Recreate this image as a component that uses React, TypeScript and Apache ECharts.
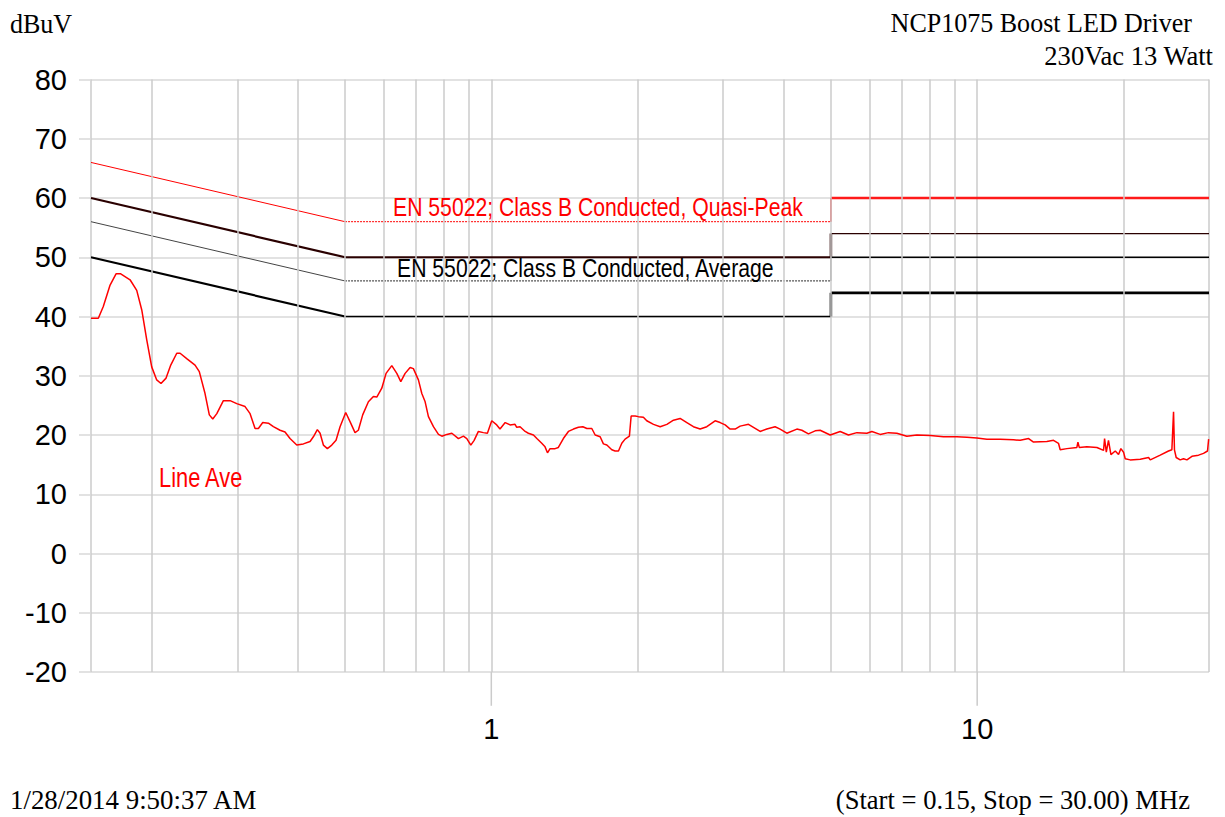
import React, { useEffect, useRef } from "react";
import * as echarts from "echarts";

// Measured trace: "Line Ave" (frequency in MHz, level in dBuV)
const traceFreq = [
  0.15, 0.1553, 0.159, 0.1642, 0.1689, 0.1727, 0.1805, 0.1863, 0.1908, 0.1954,
  0.2, 0.2048, 0.209, 0.2141, 0.2189, 0.2252, 0.2288, 0.2361, 0.2456, 0.2506,
  0.2575, 0.2628, 0.2671, 0.2723, 0.2809, 0.29, 0.2993, 0.3113, 0.3188, 0.3264,
  0.3316, 0.3385, 0.3477, 0.356, 0.3675, 0.3762, 0.3852, 0.3977, 0.4104, 0.4236,
  0.4303, 0.4385, 0.4442, 0.4512, 0.4598, 0.4695, 0.4791, 0.4883, 0.5016, 0.5136,
  0.5242, 0.5325, 0.5436, 0.5585, 0.5719, 0.5812, 0.5951, 0.6073, 0.624, 0.639,
  0.6512, 0.6646, 0.6806, 0.6912, 0.7079, 0.7194, 0.7308, 0.7423, 0.7601, 0.7784,
  0.791, 0.81, 0.8294, 0.8557, 0.8761, 0.8903, 0.9074, 0.9218, 0.9406, 0.9632,
  0.9817, 1.002, 1.026, 1.042, 1.068, 1.093, 1.119, 1.128, 1.146, 1.174,
  1.192, 1.221, 1.241, 1.27, 1.29, 1.305, 1.321, 1.353, 1.374, 1.407,
  1.441, 1.476, 1.511, 1.543, 1.573, 1.61, 1.636, 1.675, 1.701, 1.729,
  1.77, 1.798, 1.827, 1.856, 1.885, 1.924, 1.94, 1.977, 2.008, 2.056,
  2.089, 2.157, 2.226, 2.298, 2.371, 2.447, 2.526, 2.606, 2.69, 2.777,
  2.888, 2.958, 3.029, 3.101, 3.176, 3.252, 3.383, 3.464, 3.575, 3.69,
  3.838, 3.93, 4.057, 4.255, 4.357, 4.495, 4.64, 4.751, 4.983, 5.224,
  5.434, 5.655, 5.929, 6.071, 6.314, 6.568, 6.834, 7.166, 7.514, 8.005,
  8.523, 9.083, 9.524, 9.986, 10.47, 11.15, 11.88, 12.26, 12.76, 13.06,
  13.91, 14.36, 14.7, 14.82, 15.3, 16.04, 16.12, 16.22, 16.82, 17.64,
  18.2, 18.29, 18.44, 18.63, 18.85, 19.24, 19.54, 19.76, 20.01, 20.17,
  20.65, 21.66, 22.53, 22.71, 23.81, 24.76, 25.16, 25.36, 25.47, 25.68,
  26.17, 26.59, 27.02, 27.67, 28.55, 29.23, 29.79, 29.95, 30.0,
];
const traceDbuv = [
  39.7, 39.7, 41.7, 45.3, 47.2, 47.2, 46.2, 44.4, 41.1, 36.0,
  31.5, 29.3, 28.7, 29.6, 31.8, 33.8, 33.8, 32.9, 31.8, 30.7,
  27.0, 23.4, 22.7, 23.6, 25.8, 25.8, 25.3, 24.8, 23.6, 21.1,
  21.1, 22.1, 22.0, 21.4, 20.8, 20.5, 19.4, 18.3, 18.5, 18.9,
  19.7, 20.9, 20.3, 18.3, 17.7, 18.3, 19.1, 21.4, 23.8, 22.0,
  20.4, 20.8, 23.4, 25.6, 26.5, 26.4, 27.9, 30.4, 31.7, 30.4,
  29.0, 30.4, 31.4, 31.2, 29.3, 27.0, 25.6, 23.1, 21.4, 20.1,
  19.8, 20.1, 20.3, 19.4, 19.8, 19.4, 18.3, 19.1, 20.6, 20.4,
  20.3, 22.4, 21.7, 21.0, 22.1, 21.7, 21.8, 21.3, 21.4, 20.6,
  20.3, 20.0, 19.4, 18.6, 18.0, 17.0, 17.7, 17.7, 17.9, 19.4,
  20.6, 21.0, 21.3, 21.4, 21.1, 21.1, 20.0, 19.7, 18.5, 18.3,
  17.5, 17.3, 17.3, 18.6, 19.3, 19.8, 23.2, 23.2, 23.1, 23.0,
  22.4, 21.8, 21.4, 21.8, 22.5, 22.8, 22.1, 21.4, 21.0, 21.4,
  22.4, 22.1, 21.7, 21.0, 21.0, 21.5, 21.8, 21.3, 20.6, 21.0,
  21.4, 21.0, 20.3, 21.0, 20.8, 20.2, 20.7, 20.8, 20.0, 20.6,
  20.0, 20.4, 20.3, 20.6, 20.1, 20.4, 20.3, 19.8, 20.0, 19.9,
  19.7, 19.7, 19.6, 19.5, 19.3, 19.3, 19.2, 19.1, 19.4, 18.8,
  18.9, 19.1, 18.6, 17.5, 17.7, 17.9, 18.8, 17.9, 18.0, 17.9,
  17.4, 19.4, 17.1, 19.1, 16.7, 17.3, 16.7, 17.7, 17.1, 16.0,
  15.8, 15.9, 16.2, 15.8, 16.6, 17.3, 17.5, 23.9, 17.5, 16.2,
  15.8, 16.0, 15.8, 16.4, 16.6, 16.9, 17.3, 19.3, 19.3,
];

// EN 55022 Class B limit lines (break points in MHz)
const limitFreqs = [0.15, 0.5, 5, 5, 30];
const qpLimit = [66, 56, 56, 60, 60];
const qpMargin = [60, 50, 50, 54, 54];
const avgLimit = [56, 46, 46, 50, 50];
const avgMargin = [50, 40, 40, 44, 44];

// Axis ticks / grid
const yTicks = { min: -20, max: 80, step: 10 };
const xMajorTicks = [1, 10];
const xTickDepth = -25.7; // tick marks below the axis at the decade labels
const minorGridFreqs = [0.2, 0.3, 0.4, 0.5, 0.6, 0.7, 0.8, 0.9, 2, 3, 4, 5, 6, 7, 8, 9, 20];

const SANS = "'Liberation Sans', Arial, sans-serif";
const SERIF = "'Liberation Serif', 'Times New Roman', serif";

type SegStyle = { color: string; width: number; type?: any };

function limitSeries(name: string, values: number[], styles: SegStyle[]) {
  const out: any[] = [];
  for (let i = 0; i < limitFreqs.length - 1; i++) {
    const st = styles[i];
    out.push({
      name: name + "-" + i,
      type: "line",
      silent: true,
      symbol: "none",
      z: 3,
      data: [
        [limitFreqs[i], values[i]],
        [limitFreqs[i + 1], values[i + 1]],
      ],
      lineStyle: { color: st.color, width: st.width, type: st.type || "solid" },
    });
  }
  return out;
}

function txt(text: string, x: number, y: number, size: number, family: string, color: string, align: string, scaleX = 1) {
  return {
    type: "text",
    x,
    y,
    scaleX,
    silent: true,
    z: 20,
    style: {
      text,
      x: 0,
      y: 0,
      fill: color,
      fontSize: size,
      fontFamily: family,
      align,
      verticalAlign: "middle",
    },
  };
}

export default function App() {
  const ref = useRef<HTMLDivElement>(null);
  useEffect(() => {
    const chart = echarts.init(ref.current!, null, { renderer: "svg" });
    const gridColor = "#cbcbcb";
    const hGridColor = "#d9d9d9";
    const option: any = {
      animation: false,
      backgroundColor: "#ffffff",
      grid: { left: 91, right: 16, top: 79.5, bottom: 145, containLabel: false },
      xAxis: {
        type: "log",
        logBase: 10,
        min: 0.15,
        max: 30,
        axisLine: { show: false },
        axisTick: { show: false },
        axisLabel: {
          showMinLabel: false,
          showMaxLabel: false,
          formatter: (v: number) => (xMajorTicks.indexOf(v) >= 0 ? String(v) : ""),
          fontSize: 29,
          fontFamily: SANS,
          color: "#000",
          margin: 42,
        },
        splitLine: { show: true, lineStyle: { color: gridColor, width: 1.5 } },
      },
      yAxis: {
        type: "value",
        min: yTicks.min,
        max: yTicks.max,
        interval: yTicks.step,
        axisLine: { show: false },
        axisTick: { show: true, length: 12, lineStyle: { color: hGridColor, width: 1.5 } },
        axisLabel: { fontSize: 29, fontFamily: SANS, color: "#000", margin: 24 },
        splitLine: { show: true, lineStyle: { color: hGridColor, width: 1.5 } },
      },
      series: [
        {
          name: "grid",
          type: "line",
          data: [],
          silent: true,
          z: 1,
          markLine: {
            silent: true,
            symbol: ["none", "none"],
            label: { show: false },
            emphasis: { disabled: true },
            lineStyle: { color: gridColor, width: 1.5, type: "solid" },
            data: minorGridFreqs.map((f) => ({ xAxis: f })),
          },
        },
        ...xMajorTicks.map((f) => ({
          name: "tick-" + f,
          type: "line",
          symbol: "none",
          silent: true,
          clip: false,
          z: 1,
          data: [
            [f, yTicks.min],
            [f, xTickDepth],
          ],
          lineStyle: { color: gridColor, width: 1.5 },
        })),
        ...limitSeries("qp", qpLimit, [
          { color: "#ff0000", width: 1 },
          { color: "#ff0000", width: 1, type: [2, 1] },
          { color: "#ff0000", width: 1.5 },
          { color: "#ff1a1a", width: 2.5 },
        ]),
        ...limitSeries("qp6", qpMargin, [
          { color: "#2a0000", width: 2.2 },
          { color: "#2a0000", width: 2 },
          { color: "#2a0000", width: 2.5 },
          { color: "#2a0000", width: 1.2 },
        ]),
        ...limitSeries("avg", avgLimit, [
          { color: "#444444", width: 1 },
          { color: "#555555", width: 1.2, type: [2, 1] },
          { color: "#555555", width: 1 },
          { color: "#000000", width: 1.5 },
        ]),
        ...limitSeries("avg6", avgMargin, [
          { color: "#000000", width: 2.2 },
          { color: "#000000", width: 1.5 },
          { color: "#000000", width: 2.5 },
          { color: "#000000", width: 2.8 },
        ]),
        {
          name: "Line Ave",
          type: "line",
          symbol: "none",
          silent: true,
          z: 5,
          data: traceFreq.map((f, i) => [f, traceDbuv[i]]),
          lineStyle: { color: "#ff0000", width: 1.5 },
        },
      ],
      graphic: [
        txt("dBuV", 10, 24, 28, SERIF, "#000", "left", 0.93),
        txt("NCP1075 Boost LED Driver", 1192, 23, 28, SERIF, "#000", "right", 0.93),
        txt("230Vac 13 Watt", 1213, 56, 28, SERIF, "#000", "right", 0.95),
        txt("1/28/2014 9:50:37 AM", 10, 800, 28, SERIF, "#000", "left", 0.96),
        txt("(Start = 0.15, Stop = 30.00) MHz", 1190, 800, 28, SERIF, "#000", "right", 0.95),
        txt("EN 55022; Class B Conducted, Quasi-Peak", 393, 206.5, 26.5, SANS, "#ff0000", "left", 0.8),
        txt("EN 55022; Class B Conducted, Average", 397, 267.5, 26.5, SANS, "#000", "left", 0.8),
        txt("Line Ave", 159, 477, 28, SANS, "#ff0000", "left", 0.78),
      ],
    };
    chart.setOption(option);
    return () => chart.dispose();
  }, []);
  return (
    <div
      ref={ref}
      style={{ position: "fixed", left: 0, top: 0, width: 1225, height: 817, background: "#fff" }}
    />
  );
}
